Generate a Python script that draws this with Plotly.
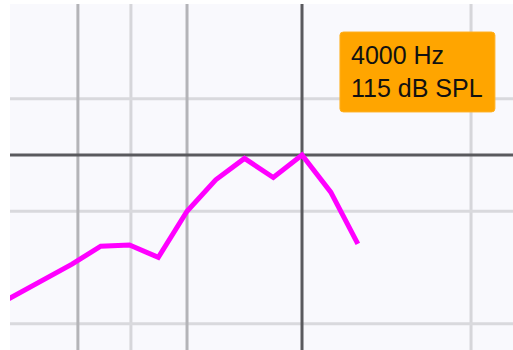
import math
import plotly.graph_objects as go

# Output curve, quarter-octave frequencies (Hz) and level (dB SPL)
freq_hz = [595, 707, 841, 1000, 1189, 1414, 1682, 2000, 2378, 2828, 3364, 4000, 4757, 5600]
level_db = [101.1, 102.5, 103.9, 105.3, 106.9, 107.0, 105.9, 110.0, 112.8, 114.7, 113.0, 115.0, 111.7, 107.1]

# Cursor readout
cursor_hz = 4000
cursor_db = 115
cursor_text = ["4000 Hz", "115 dB SPL"]

# Grid
grid_major_hz = [1036, 2000]
grid_minor_hz = [1426, 11080]
grid_db = [100, 110, 120]

# Visible ranges
x_min_hz, x_max_hz = 688, 14270
y_min_db, y_max_db = 97.67, 128.42

fig = go.Figure()

fig.add_trace(go.Scatter(
    x=freq_hz, y=level_db, mode="lines",
    line=dict(color="#ff00ff", width=5, shape="linear"),
    hoverinfo="skip", showlegend=False, cliponaxis=True,
))

shapes = []
for f in grid_minor_hz:
    shapes.append(dict(type="line", xref="x", yref="paper", x0=f, x1=f, y0=0, y1=1,
                       line=dict(color="#d6d6da", width=3), layer="below"))
for d in grid_db:
    shapes.append(dict(type="line", xref="paper", yref="y", x0=0, x1=1, y0=d, y1=d,
                       line=dict(color="#d9d9dd", width=3), layer="below"))
for f in grid_major_hz:
    shapes.append(dict(type="line", xref="x", yref="paper", x0=f, x1=f, y0=0, y1=1,
                       line=dict(color="#b4b4b8", width=3), layer="below"))
# Cursor cross-hair
shapes.append(dict(type="line", xref="x", yref="paper", x0=cursor_hz, x1=cursor_hz, y0=0, y1=1,
                   line=dict(color="#5a5a5e", width=3), layer="below"))
shapes.append(dict(type="line", xref="paper", yref="y", x0=0, x1=1, y0=cursor_db, y1=cursor_db,
                   line=dict(color="#5a5a5e", width=3), layer="below"))

# Readout box (paper coordinates, small rounded corners)
bx0, bx1, by0, by1 = 0.656, 0.964, 0.688, 0.919
rx, ry = 0.007, 0.009
path = (f"M {bx0+rx},{by0} L {bx1-rx},{by0} Q {bx1},{by0} {bx1},{by0+ry} "
        f"L {bx1},{by1-ry} Q {bx1},{by1} {bx1-rx},{by1} L {bx0+rx},{by1} "
        f"Q {bx0},{by1} {bx0},{by1-ry} L {bx0},{by0+ry} Q {bx0},{by0} {bx0+rx},{by0} Z")
shapes.append(dict(type="path", xref="paper", yref="paper", path=path,
                   fillcolor="#ffa500", line=dict(color="#ffb020", width=1), layer="above"))

fig.add_annotation(
    xref="paper", yref="paper", x=0.673, y=0.8035, xanchor="left", yanchor="middle",
    text="<br>".join(cursor_text), showarrow=False, align="left",
    font=dict(family="Liberation Sans, Arial, sans-serif", size=25, color="#111111"),
)

fig.update_layout(
    width=513, height=350,
    margin=dict(l=10, r=0, t=4, b=0),
    paper_bgcolor="#ffffff", plot_bgcolor="#f9f9fd",
    shapes=shapes, showlegend=False,
    xaxis=dict(type="log", range=[math.log10(x_min_hz), math.log10(x_max_hz)],
               showgrid=False, zeroline=False, showticklabels=False, ticks="", fixedrange=True),
    yaxis=dict(range=[y_min_db, y_max_db], showgrid=False, zeroline=False,
               showticklabels=False, ticks="", fixedrange=True),
)

fig.write_html("out.html", config={"displayModeBar": False})
